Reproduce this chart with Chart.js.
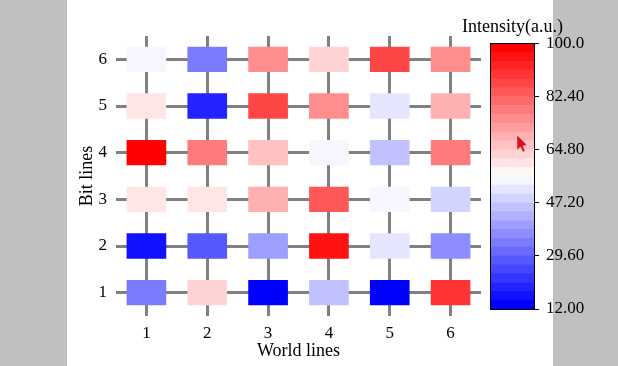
<!DOCTYPE html>
<html>
<head>
<meta charset="utf-8">
<script src="https://cdn.jsdelivr.net/npm/chart.js@4"></script>
<style>
  html, body { margin: 0; padding: 0; background: #c0c0c0; overflow: hidden; }
  #page { position: absolute; left: 67px; top: 0; width: 486px; height: 366px; background: #fff; }
  canvas { position: absolute; left: 0; top: 0; }
  #barChart { left: 407px; }
  #cursor { position: absolute; left: 510px; top: 130px; }
</style>
</head>
<body>
<div id="page"></div>
<canvas id="gridChart" width="618" height="366"></canvas>
<canvas id="barChart" width="211" height="366"></canvas>
<svg id="cursor" width="24" height="28" viewBox="510 130 24 28">
  <polygon points="517,135 517,150 520.5,147 523,152 525,151 523,146 527,145" fill="#d8101c" stroke="#f6c8c8" stroke-width="0.5"/>
</svg>

<script>
const fontName = "'Liberation Serif', 'Times New Roman', serif";

const worldLines = ['1', '2', '3', '4', '5', '6'];
const bitLines = [1, 2, 3, 4, 5, 6];

// intensity of each cell, one array per bit line
const bit1 = [34.0, 63.3, 13.5, 45.7, 13.5, 89.7];
const bit2 = [16.4, 28.1, 39.9, 95.6, 51.6, 36.9];
const bit3 = [60.4, 60.4, 69.2, 83.9, 54.5, 48.7];
const bit4 = [98.5, 78.0, 66.3, 54.5, 45.7, 78.0];
const bit5 = [60.4, 19.3, 86.8, 75.1, 51.6, 69.2];
const bit6 = [54.5, 34.0, 75.1, 63.3, 86.8, 75.1];
const intensity = [bit1, bit2, bit3, bit4, bit5, bit6];

const barTicks = [12, 29.6, 47.2, 64.8, 82.4, 100];
const barTickLabels = ['12.00', '29.60', '47.20', '64.80', '82.40', '100.0'];
const barEdges = [12, 14.93, 17.87, 20.8, 23.73, 26.67, 29.6, 32.53, 35.47, 38.4, 41.33, 44.27, 47.2, 50.13, 53.07,
  56, 58.93, 61.87, 64.8, 67.73, 70.67, 73.6, 76.53, 79.47, 82.4, 85.33, 88.27, 91.2, 94.13, 97.07, 100];

const levels = barEdges.length - 1;
const cellHalf = 0.264;

// blue-white-red map cut into discrete levels
function levelColor(i) {
    const t = i / (levels - 1);
    if (t < 0.5) {
        const c = Math.round(255 * 2 * t);
        return 'rgb(' + c + ',' + c + ',255)';
    }
    const c = Math.round(255 * (2 - 2 * t));
    return 'rgb(255,' + c + ',' + c + ')';
}

function valueColor(v) {
    let i = Math.floor((v - barEdges[0]) / (barEdges[levels] - barEdges[0]) * levels);
    if (i > levels - 1) i = levels - 1;
    return levelColor(i);
}

new Chart(document.getElementById('gridChart'), {
    type: 'bar',
    data: {
        labels: worldLines,
        datasets: bitLines.map(function(row, r) {
            return {
                label: 'Bit line ' + row,
                data: intensity[r].map(function() { return [row - cellHalf, row + cellHalf]; }),
                backgroundColor: intensity[r].map(valueColor),
                borderWidth: 0,
                barThickness: 39,
                grouped: false
            };
        })
    },
    options: {
        responsive: false,
        animation: false,
        layout: { padding: { left: 76, right: 137, top: 36, bottom: 4 } },
        plugins: { legend: { display: false }, tooltip: { enabled: false } },
        scales: {
            x: {
                offset: true,
                grid: { offset: false, color: '#808080', lineWidth: 3, drawTicks: false },
                border: { display: false },
                ticks: { color: '#000', padding: 7, maxRotation: 0, font: { family: fontName, size: 17 } },
                title: { display: true, text: 'World lines', color: '#000', padding: 0, font: { family: fontName, size: 18 } },
                afterFit: function(scale) { scale.height = 46; }
            },
            y: {
                min: 0.5,
                max: 6.5,
                afterBuildTicks: function(scale) {
                    scale.ticks = bitLines.map(function(v) { return { value: v }; });
                },
                grid: { color: '#808080', lineWidth: 3, drawTicks: false },
                border: { display: false },
                ticks: { color: '#000', padding: 9, font: { family: fontName, size: 17 } },
                title: { display: true, text: 'Bit lines', color: '#000', padding: 0, font: { family: fontName, size: 18 } },
                afterFit: function(scale) { scale.width = 40; }
            }
        }
    }
});

const outline = {
    id: 'outline',
    afterDatasetsDraw: function(chart) {
        const a = chart.chartArea;
        const c = chart.ctx;
        c.save();
        c.strokeStyle = '#000';
        c.lineWidth = 1;
        c.strokeRect(Math.round(a.left) - 0.5, Math.round(a.top) - 0.5, Math.round(a.width) + 1, Math.round(a.height) + 1);
        c.restore();
    }
};

new Chart(document.getElementById('barChart'), {
    type: 'bar',
    data: {
        labels: ['Intensity'],
        datasets: barEdges.slice(0, levels).map(function(edge, i) {
            return {
                data: [[edge, barEdges[i + 1]]],
                backgroundColor: levelColor(i),
                borderWidth: 0,
                grouped: false,
                barPercentage: 1,
                categoryPercentage: 1,
                yAxisID: 'y'
            };
        })
    },
    plugins: [outline],
    options: {
        responsive: false,
        animation: false,
        layout: { padding: { left: 0, right: 0, top: 16, bottom: 57 } },
        plugins: {
            legend: { display: false },
            tooltip: { enabled: false },
            title: {
                display: true,
                text: 'Intensity(a.u.)',
                color: '#000',
                padding: { top: 0, bottom: 6 },
                font: { family: fontName, size: 18, weight: 'normal' }
            }
        },
        scales: {
            x: { display: false },
            // empty axis, keeps the title centred over the bar
            spacer: {
                position: 'left',
                grid: { display: false },
                border: { display: false },
                ticks: { display: false },
                afterFit: function(scale) { scale.width = 84; }
            },
            y: {
                position: 'right',
                min: 12,
                max: 100,
                afterBuildTicks: function(scale) {
                    scale.ticks = barTicks.map(function(v) { return { value: v }; });
                },
                afterTickToLabelConversion: function(scale) {
                    scale.ticks.forEach(function(t, i) { t.label = barTickLabels[i]; });
                },
                grid: { drawOnChartArea: false, color: '#000', lineWidth: 1, tickLength: 5 },
                border: { display: false },
                ticks: { color: '#000', padding: 7, font: { family: fontName, size: 17 } },
                afterFit: function(scale) { scale.width = 84; }
            }
        }
    }
});
</script>
</body>
</html>
